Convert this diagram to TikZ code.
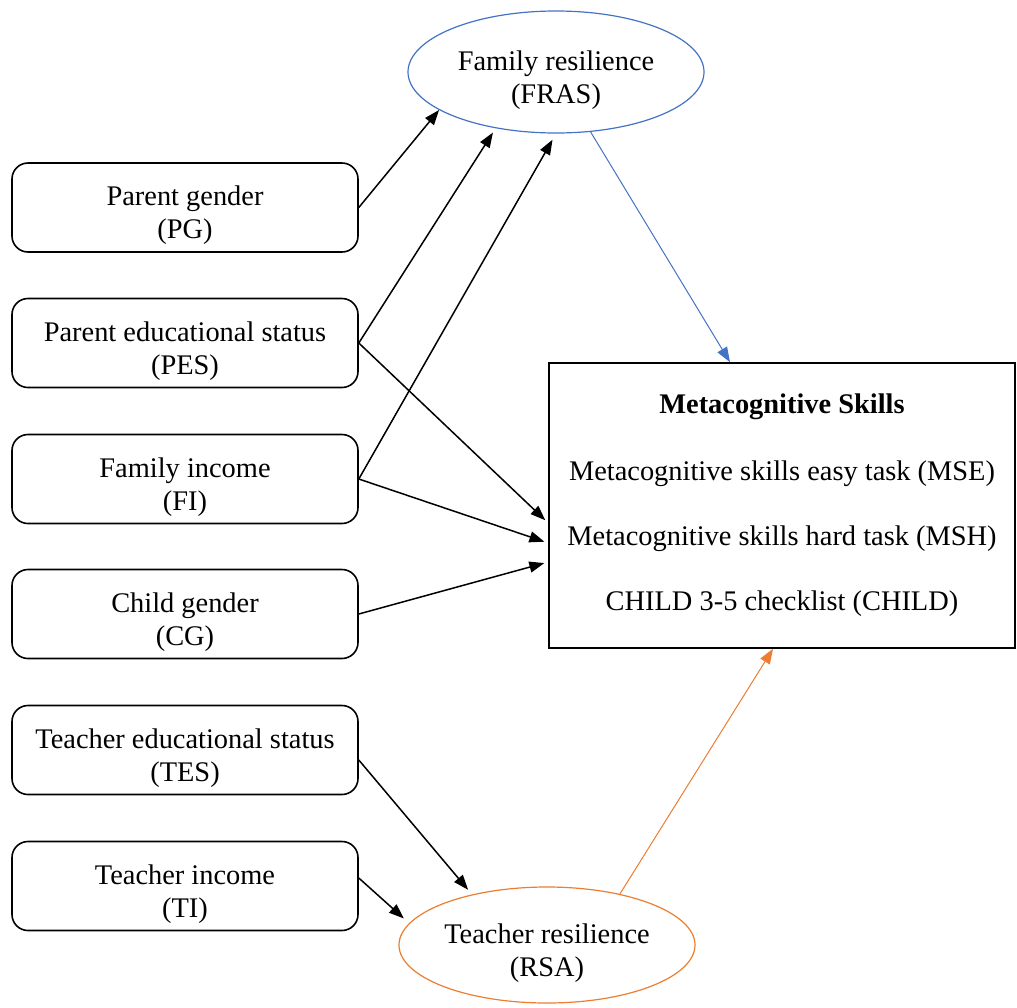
\documentclass[tikz,border=0pt]{standalone}
\usepackage{fontspec}
\setmainfont{Liberation Serif}
\usetikzlibrary{shapes.geometric,arrows.meta,calc}
\definecolor{frasblue}{RGB}{68,114,196}
\definecolor{rsaorange}{RGB}{237,125,49}
% two centred lines, drawn lower by the given amount without changing the box size
\newcommand{\twoline}[3]{\raisebox{#1}[\height][\depth]{\begin{tabular}{@{}c@{}}#2\\#3\end{tabular}}}
\begin{document}
\begin{tikzpicture}[x=0.5pt,y=-0.5pt,
  font=\fontsize{14.2pt}{16.5pt}\selectfont,
  varbox/.style={draw, line width=0.8pt, rounded corners=8pt, minimum width=173pt,
    minimum height=44.5pt, align=center, inner sep=0pt},
  resil/.style={ellipse, draw, line width=0.6pt, minimum width=148pt, inner sep=0pt, align=center},
  link/.style={line width=0.75pt, -{Triangle[length=7.5pt,width=5.5pt]}},
  clink/.style={line width=0.5pt, -{Triangle[length=7.5pt,width=5.5pt]}}]
\useasboundingbox (0,0) rectangle (1017,1007);

% predictor boxes
\node[varbox] (pg)  at (185,207.5) {\twoline{-4pt}{Parent gender}{(PG)}};
\node[varbox] (pes) at (185,343)   {\twoline{-4pt}{Parent educational status}{(PES)}};
\node[varbox] (fi)  at (185,479)   {\twoline{-4pt}{Family income}{(FI)}};
\node[varbox] (cg)  at (185,614)   {\twoline{-4pt}{Child gender}{(CG)}};
\node[varbox] (tes) at (185,750)   {\twoline{-4pt}{Teacher educational status}{(TES)}};
\node[varbox] (ti)  at (185,886)   {\twoline{-4pt}{Teacher income}{(TI)}};

% resilience mediators
\node[resil, draw=frasblue, minimum height=61pt] (fras) at (556,72)
  {\twoline{-4pt}{Family resilience}{(FRAS)}};
\node[resil, draw=rsaorange, minimum height=58pt] (rsa) at (547,945)
  {\twoline{-4pt}{Teacher resilience}{(RSA)}};

% outcome box
\node[draw, line width=0.8pt, minimum width=233pt, minimum height=142.5pt, align=center, inner sep=0pt]
  (meta) at (782,505.5)
  {\textbf{Metacognitive Skills}\\[17pt]
   Metacognitive skills easy task (MSE)\\[16pt]
   Metacognitive skills hard task (MSH)\\[16pt]
   CHILD 3-5 checklist (CHILD)};

% connector end points on the outcome box
\coordinate (m1) at ($(meta.west)+(0,17.5)$);
\coordinate (m2) at ($(meta.west)+(0,37.5)$);
\coordinate (m3) at ($(meta.west)+(0,56.5)$);
\coordinate (mtop) at ($(meta.north)+(-52,0)$);
\coordinate (mbot) at ($(meta.south)+(-9,0)$);
\coordinate (tesout) at ($(tes.east)+(0,10)$);
\coordinate (tiout) at ($(ti.east)+(0,-8)$);

% paths to family resilience
\draw[link] (pg.east) -- (fras.198);
\draw[link, shorten >=2.5pt] (pes.east) -- (fras.-137);
\draw[link, shorten >=3.5pt] (fi.east) -- (fras.270);

% direct paths to metacognitive skills
\draw[link, shorten >=2pt] (pes.east) -- (m1);
\draw[link, shorten >=2pt] (fi.east) -- (m2);
\draw[link, shorten >=2pt] (cg.east) -- (m3);

% paths to teacher resilience
\draw[link, shorten >=3pt] (tesout) -- (rsa.146);
\draw[link, shorten >=3.5pt] (tiout) -- (rsa.171);

% mediator paths
\draw[clink, draw=frasblue] (fras.-60) -- (mtop);
\draw[clink, draw=rsaorange] (rsa.35) -- (mbot);
\end{tikzpicture}
\end{document}
